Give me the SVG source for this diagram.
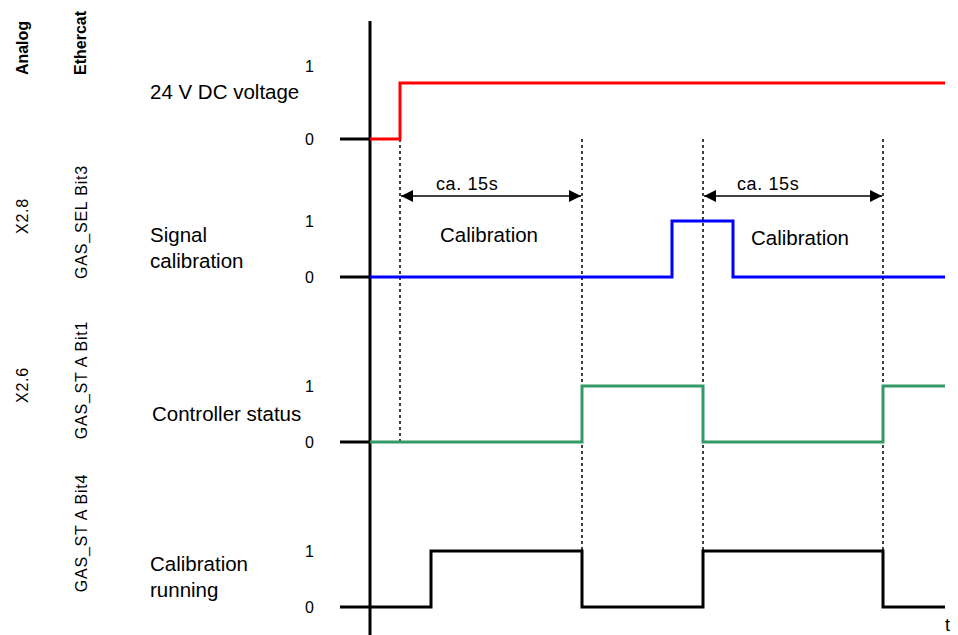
<svg xmlns="http://www.w3.org/2000/svg" width="958" height="635" viewBox="0 0 958 635">
<style>
text{font-family:"Liberation Sans",Arial,sans-serif;fill:#000}
.lab{font-size:20.5px}
.lv{font-size:16px}
.side{font-size:16px;letter-spacing:0.8px}
.bold{font-size:16px;font-weight:bold}
.cal{font-size:20.5px}
.ca{font-size:18px;letter-spacing:0.6px}
.sig{fill:none;stroke-width:3;stroke-linejoin:miter}
.dot{stroke:#000;stroke-width:1.5;stroke-dasharray:3 3;fill:none}
.dim{stroke:#000;stroke-width:1.5;fill:none}
</style>
<defs>
<marker id="ah" viewBox="0 0 10 10" refX="10" refY="5" markerWidth="12" markerHeight="12" markerUnits="userSpaceOnUse" orient="auto-start-reverse">
<path d="M0,0 L10,5 L0,10 z" fill="#000"/>
</marker>
</defs>
<g id="side-labels">
<text class="bold" transform="translate(28,48) rotate(-90)" text-anchor="middle">Analog</text>
<text class="bold" transform="translate(86,43) rotate(-90)" text-anchor="middle">Ethercat</text>
<text class="side" transform="translate(28,216) rotate(-90)" text-anchor="middle">X2.8</text>
<text class="side" transform="translate(87,222) rotate(-90)" text-anchor="middle">GAS_SEL Bit3</text>
<text class="side" transform="translate(28,385) rotate(-90)" text-anchor="middle">X2.6</text>
<text class="side" transform="translate(87,380) rotate(-90)" text-anchor="middle">GAS_ST A Bit1</text>
<text class="side" transform="translate(87,533) rotate(-90)" text-anchor="middle">GAS_ST A Bit4</text>
</g>
<g id="connectors">
<line x1="400" y1="139" x2="400" y2="442" class="dot"/>
<line x1="582" y1="139" x2="582" y2="551" class="dot"/>
<line x1="703" y1="139" x2="703" y2="551" class="dot"/>
<line x1="883" y1="139" x2="883" y2="551" class="dot"/>
<line x1="401" y1="196" x2="581" y2="196" class="dim" marker-start="url(#ah)" marker-end="url(#ah)"/>
<line x1="704" y1="196" x2="882" y2="196" class="dim" marker-start="url(#ah)" marker-end="url(#ah)"/>
</g>
<g id="axis">
<line x1="370" y1="21" x2="370" y2="635" stroke="#000" stroke-width="3"/>
<text x="945" y="631" style="font-size:18px">t</text>
</g>
<g id="sig-voltage">
<text class="lab" x="150" y="99">24 V DC voltage</text>
<text class="lv" x="305" y="72">1</text>
<text class="lv" x="305" y="145">0</text>
<line x1="340" y1="139" x2="370" y2="139" stroke="#000" stroke-width="3"/>
<polyline class="sig" stroke="#ff0000" points="370,139 400,139 400,83 945,83"/>
</g>
<g id="sig-calibration">
<text class="lab" x="150" y="242">Signal</text>
<text class="lab" x="150" y="268">calibration</text>
<text class="lv" x="305" y="227">1</text>
<text class="lv" x="305" y="283">0</text>
<line x1="340" y1="277" x2="370" y2="277" stroke="#000" stroke-width="3"/>
<polyline class="sig" stroke="#0000ff" points="370,277 672,277 672,221 733,221 733,277 945,277"/>
<text class="ca" x="436" y="190">ca. 15s</text>
<text class="cal" x="440" y="242">Calibration</text>
<text class="ca" x="737" y="190">ca. 15s</text>
<text class="cal" x="751" y="245">Calibration</text>
</g>
<g id="sig-status">
<text class="lab" x="152" y="421">Controller status</text>
<text class="lv" x="305" y="392">1</text>
<text class="lv" x="305" y="448">0</text>
<line x1="340" y1="442" x2="370" y2="442" stroke="#000" stroke-width="3"/>
<polyline class="sig" stroke="#339966" points="370,442 582,442 582,386 703,386 703,442 883,442 883,386 945,386"/>
</g>
<g id="sig-running">
<text class="lab" x="150" y="571">Calibration</text>
<text class="lab" x="150" y="597">running</text>
<text class="lv" x="305" y="557">1</text>
<text class="lv" x="305" y="613">0</text>
<polyline class="sig" stroke="#000" points="340,607 431,607 431,551 582,551 582,607 703,607 703,551 883,551 883,607 945,607"/>
</g>
</svg>
